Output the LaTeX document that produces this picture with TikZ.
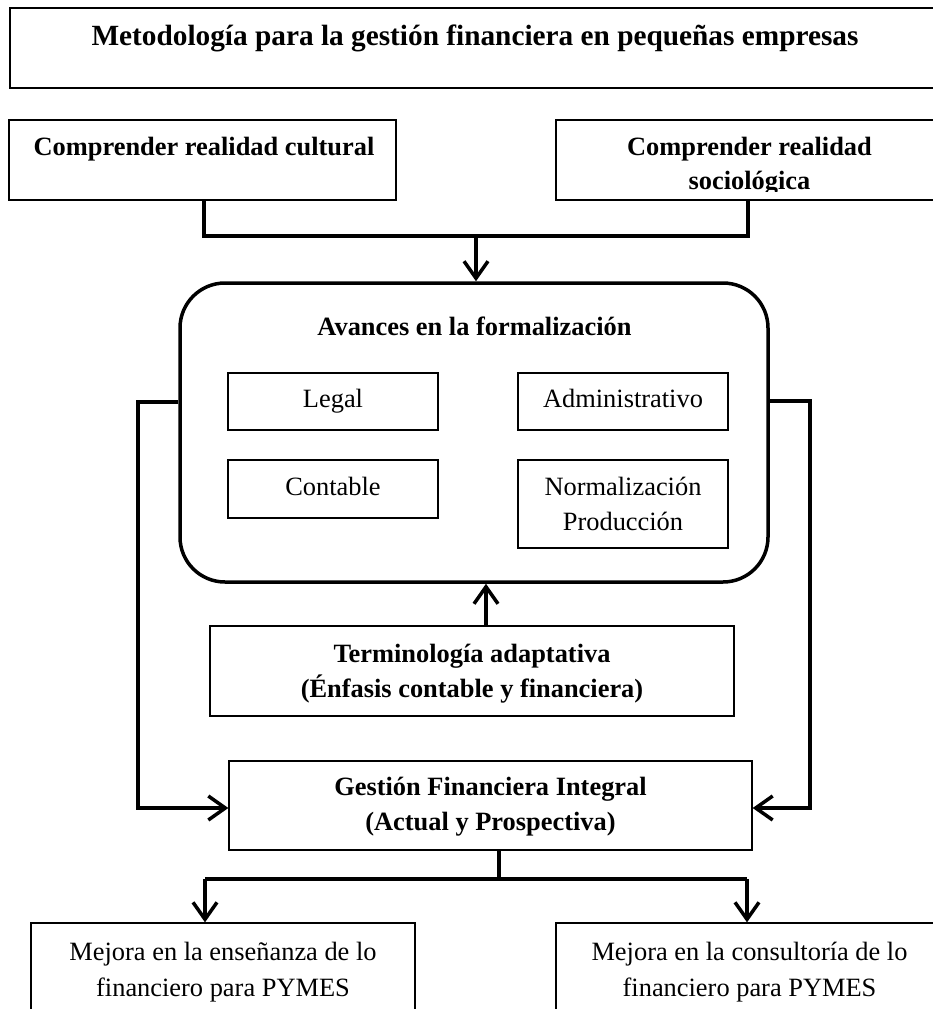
\documentclass[tikz,border=0pt]{standalone}
\usepackage{fontspec}
\setmainfont{Liberation Serif}
\usetikzlibrary{arrows.meta}
\tikzset{
  box/.style={draw, line width=1.3pt, rectangle, inner sep=0pt},
  bigbox/.style={draw, line width=3.5pt, rectangle, rounded corners=45pt, inner sep=0pt},
  conn/.style={line width=3.5pt, line join=miter},
  arr/.style={conn, -{Straight Barb[length=17pt,width=24pt]}},
  bodyfont/.style={font=\fontsize{26.4}{34}\selectfont},
  boldfont/.style={font=\fontsize{26.4}{34}\selectfont\bfseries},
  titlefont/.style={font=\fontsize{29.3}{35}\selectfont\bfseries},
  txt/.style={inner sep=0pt, anchor=base}
}
\begin{document}
\begin{tikzpicture}[x=1pt,y=-1pt]
\useasboundingbox (0,0) rectangle (933,1009);
\fill[white] (0,0) rectangle (933,1009);

% title
\node[box, line width=1.5pt, minimum width=930pt, minimum height=80pt] (title) at (475,48) {};
\node[txt, titlefont] (titlet) at (475,45.5) {Metodología para la gestión financiera en pequeñas empresas};

% top boxes
\node[box, minimum width=387pt, minimum height=80pt] (cult) at (202.5,160) {};
\node[txt, boldfont] (cultt) at (204,155) {Comprender realidad cultural};
\node[box, minimum width=387pt, minimum height=80pt] (soc) at (749.5,160) {};
\node[txt, boldfont] (soct1) at (749.5,155) {Comprender realidad};
\begin{scope}
\clip (556,120) rectangle (943,191.5);
\node[txt, boldfont] (soct2) at (749.5,189.5) {sociológica};
\end{scope}

% central rounded box
\node[bigbox, minimum width=588pt, minimum height=299pt] (avances) at (474,432.5) {};
\node[txt, boldfont] (avancest) at (474.5,335) {Avances en la formalización};
\node[box, minimum width=210pt, minimum height=57pt] (legal) at (333,401.5) {};
\node[txt, bodyfont] (legalt) at (333,407) {Legal};
\node[box, minimum width=210pt, minimum height=57pt] (admin) at (623,401.5) {};
\node[txt, bodyfont] (admint) at (623,407) {Administrativo};
\node[box, minimum width=210pt, minimum height=58pt] (cont) at (333,489) {};
\node[txt, bodyfont] (contt) at (333,495) {Contable};
\node[box, minimum width=210pt, minimum height=88pt] (norm) at (623,504) {};
\node[txt, bodyfont] (normt1) at (623,495) {Normalización};
\node[txt, bodyfont] (normt2) at (623,530) {Producción};

% terminologia
\node[box, minimum width=524pt, minimum height=90pt] (term) at (472,671) {};
\node[txt, boldfont] (termt1) at (472,662.5) {Terminología adaptativa};
\node[txt, boldfont] (termt2) at (472,697) {(Énfasis contable y financiera)};

% gestion
\node[box, minimum width=523pt, minimum height=89pt] (gest) at (490.5,805.5) {};
\node[txt, boldfont] (gestt1) at (490.5,795.5) {Gestión Financiera Integral};
\node[txt, boldfont] (gestt2) at (490.5,830.5) {(Actual y Prospectiva)};

% bottom boxes
\node[box, minimum width=384pt, minimum height=120pt] (ens) at (223,983) {};
\node[txt, bodyfont] (enst1) at (223,960) {Mejora en la enseñanza de lo};
\node[txt, bodyfont] (enst2) at (223,996.5) {financiero para PYMES};
\node[box, minimum width=387pt, minimum height=120pt] (cons) at (749.5,983) {};
\node[txt, bodyfont] (const1) at (749.5,960) {Mejora en la consultoría de lo};
\node[txt, bodyfont] (const2) at (749.5,996.5) {financiero para PYMES};

% connectors
\coordinate (J1) at (476,236);
\draw[conn] ([xshift=1.5pt]cult.south) -- ([xshift=1.5pt]cult.south |- J1) -- ([xshift=-1.5pt]soc.south |- J1) -- ([xshift=-1.5pt]soc.south);
\draw[arr] (J1) -- (J1 |- avances.north);

\coordinate (T1) at (486,626);
\draw[arr] (T1 |- term.north) -- (T1 |- avances.south);

\coordinate (L1) at (138,402);
\coordinate (L2) at (138,808);
\draw[arr] (avances.west |- L1) -- (L1) -- (L2) -- (gest.west |- L2);
\coordinate (R1) at (810,401);
\coordinate (R2) at (810,808);
\draw[arr] (avances.east |- R1) -- (R1) -- (R2) -- (gest.east |- R2);

\coordinate (B) at (499,879);
\coordinate (BL) at (205,879);
\coordinate (BR) at (747,879);
\draw[conn] (B |- gest.south) -- (B);
\draw[conn] (BL) -- (BR);
\draw[arr] (BL) -- (BL |- ens.north);
\draw[arr] (BR) -- (BR |- cons.north);
\end{tikzpicture}
\end{document}
